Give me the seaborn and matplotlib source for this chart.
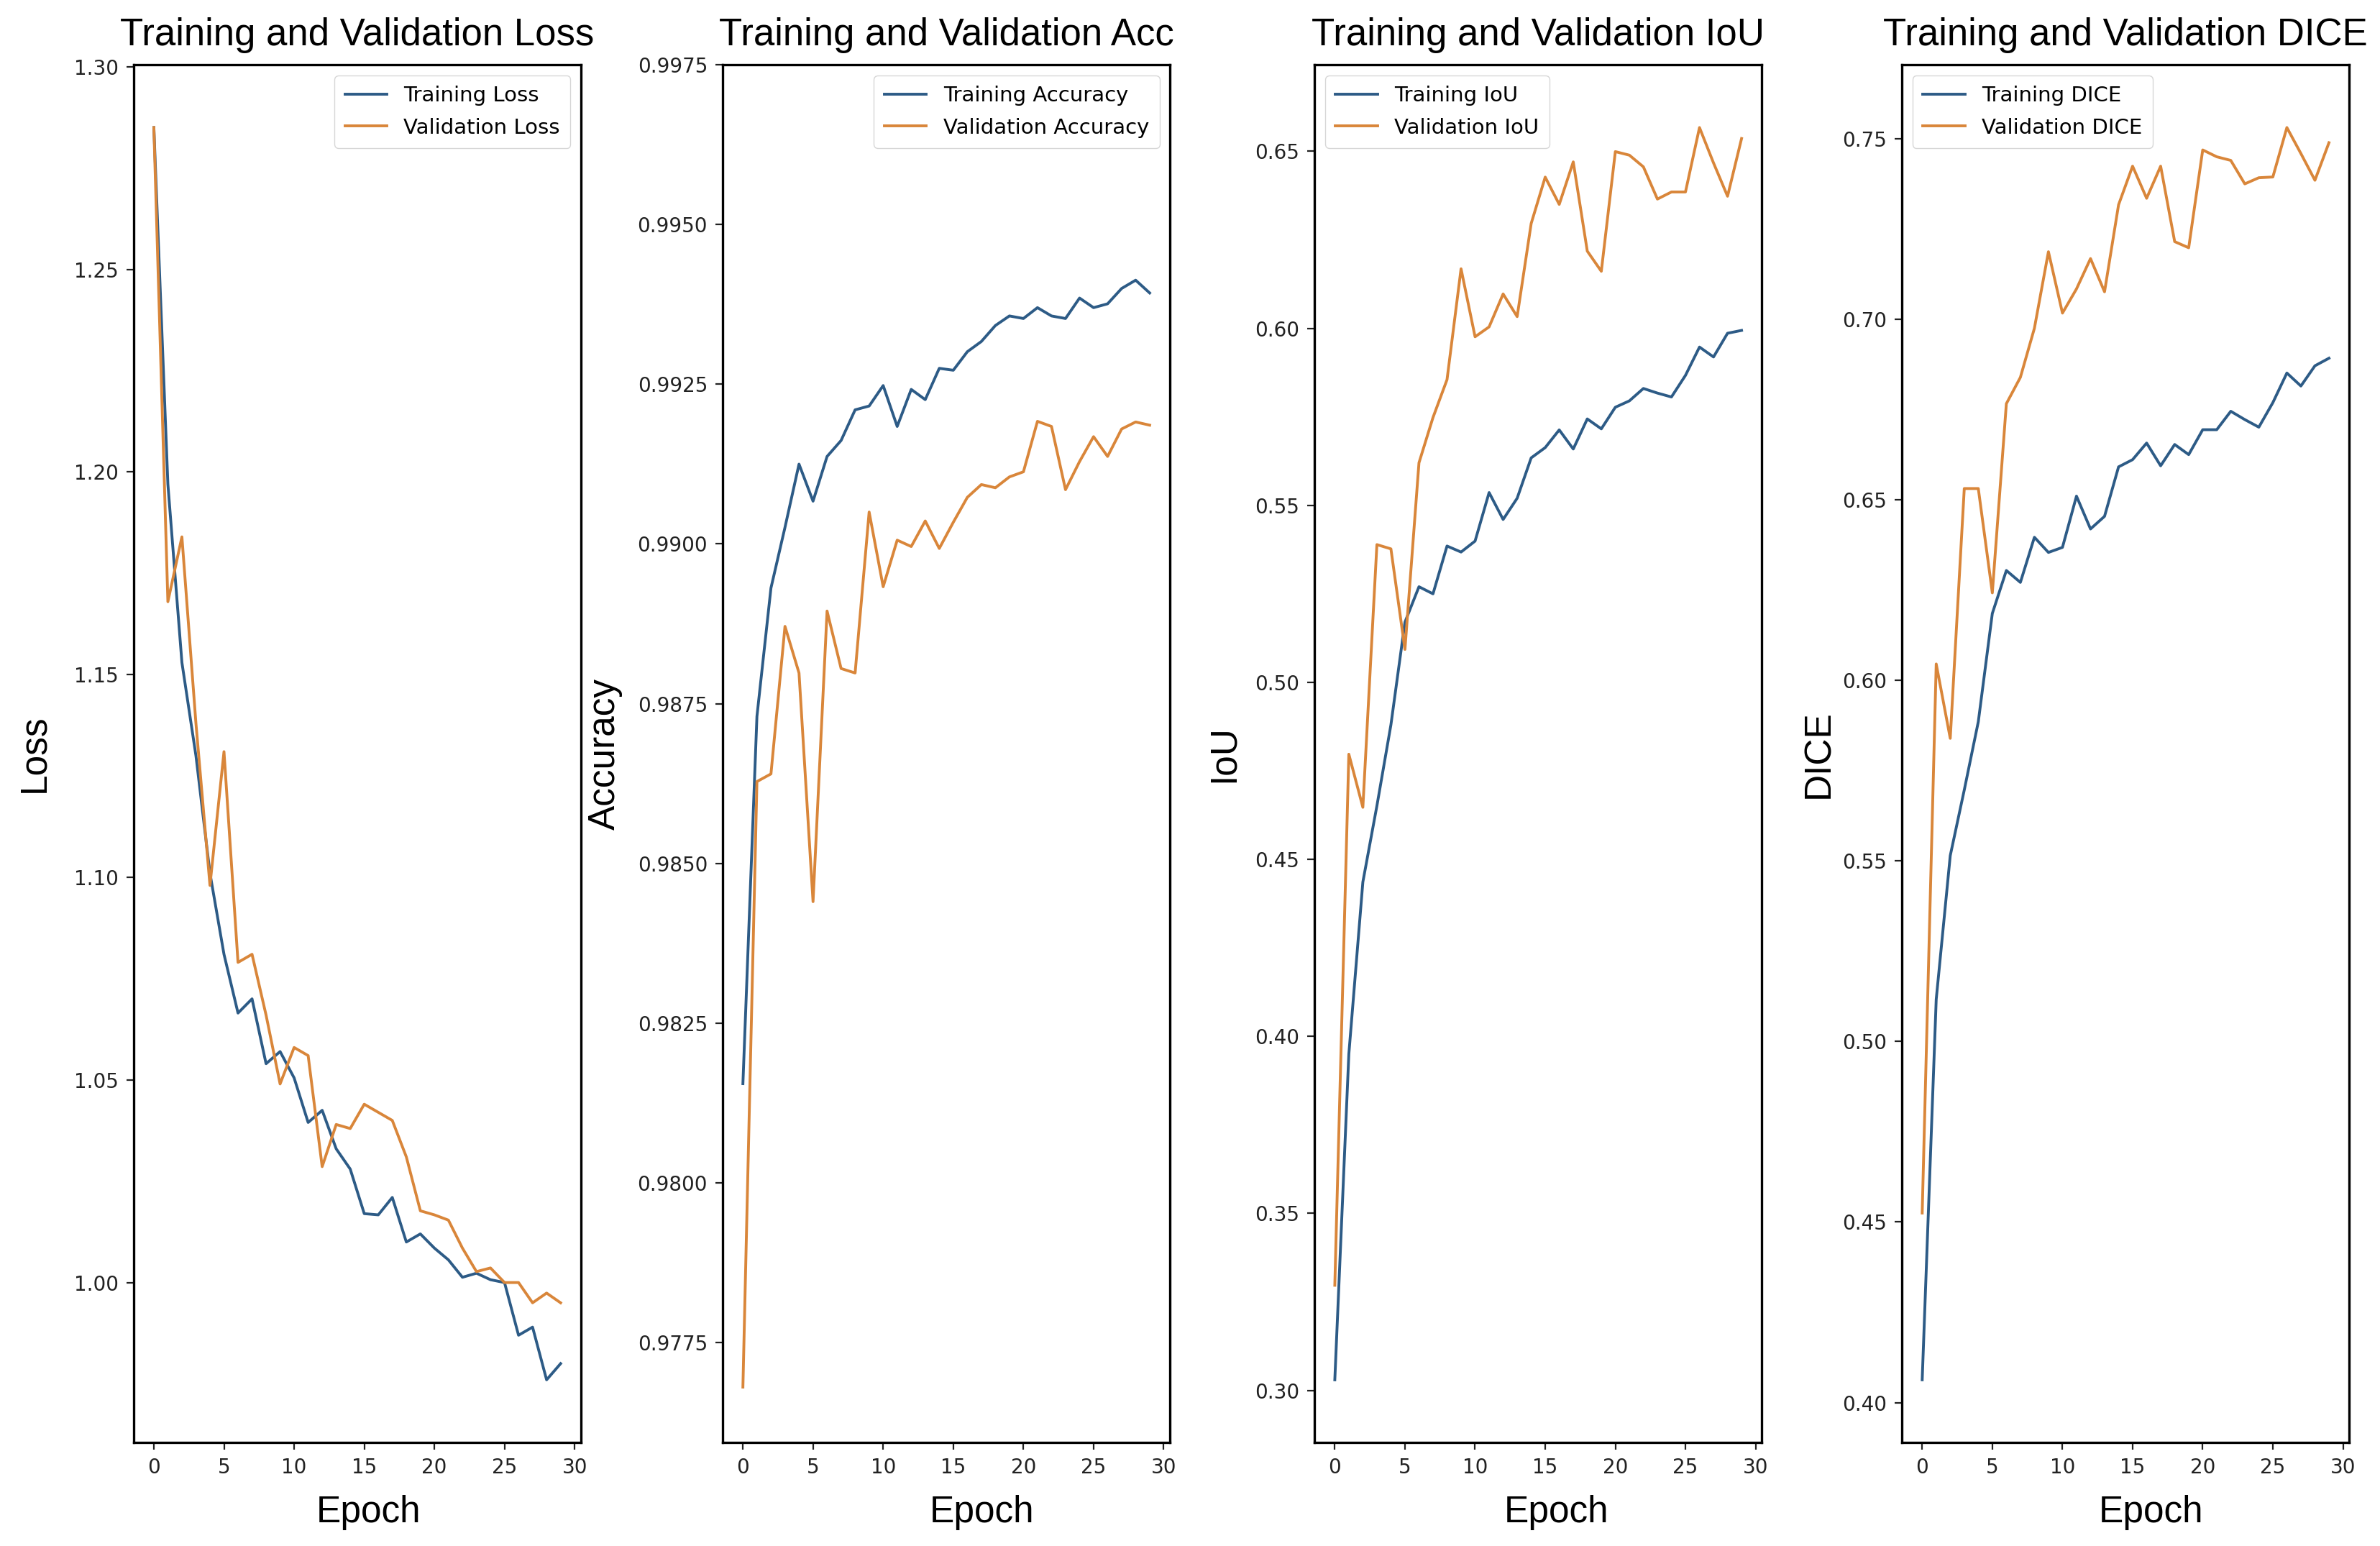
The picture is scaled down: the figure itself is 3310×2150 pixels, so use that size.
import matplotlib
matplotlib.use("Agg")
import matplotlib.pyplot as plt
import seaborn as sns

# ---- data (30 epochs) ----
epochs = list(range(30))

train_loss = [1.285, 1.197, 1.153, 1.130, 1.101, 1.081, 1.0665, 1.070, 1.054, 1.057,
              1.0505, 1.0395, 1.0425, 1.033, 1.028, 1.017, 1.0167, 1.021, 1.010, 1.012,
              1.0085, 1.0056, 1.0013, 1.0023, 1.0007, 1.000, 0.987, 0.989, 0.976, 0.980]
val_loss = [1.285, 1.168, 1.184, 1.138, 1.098, 1.131, 1.079, 1.081, 1.066, 1.049,
            1.058, 1.056, 1.0286, 1.039, 1.038, 1.044, 1.042, 1.040, 1.031, 1.0177,
            1.0167, 1.0154, 1.0085, 1.0027, 1.0036, 1.000, 1.000, 0.995, 0.9974, 0.995]

train_acc = [0.98155, 0.9873, 0.98931, 0.99026, 0.99125, 0.99067, 0.99137, 0.99162, 0.9921, 0.99216,
             0.99248, 0.99184, 0.99242, 0.99226, 0.99275, 0.99272, 0.99301, 0.99317, 0.99342, 0.99357,
             0.99353, 0.9937, 0.99357, 0.99353, 0.99385, 0.9937, 0.99376, 0.994, 0.99413, 0.99393]
val_acc = [0.9768, 0.98628, 0.9864, 0.98871, 0.98798, 0.9844, 0.98895, 0.98805, 0.98798, 0.9905,
           0.98933, 0.99006, 0.98996, 0.99036, 0.98993, 0.99034, 0.99073, 0.99093, 0.99088, 0.99105,
           0.99113, 0.99192, 0.99184, 0.99085, 0.99129, 0.99168, 0.99137, 0.9918, 0.99191, 0.99186]

train_iou = [0.303, 0.395, 0.4436, 0.4651, 0.488, 0.517, 0.527, 0.525, 0.5385, 0.5368,
             0.5399, 0.5536, 0.546, 0.552, 0.5634, 0.5663, 0.5713, 0.5659, 0.5744, 0.5716,
             0.5777, 0.5795, 0.583, 0.5817, 0.5806, 0.5867, 0.5947, 0.5919, 0.5986, 0.5994]
val_iou = [0.3297, 0.4797, 0.4647, 0.5389, 0.5377, 0.5093, 0.562, 0.5748, 0.5855, 0.6168,
           0.5976, 0.6004, 0.6097, 0.6033, 0.6296, 0.6427, 0.635, 0.647, 0.6218, 0.6161,
           0.6499, 0.6489, 0.6456, 0.6365, 0.6385, 0.6385, 0.6567, 0.6467, 0.6373, 0.6536]

train_dice = [0.4063, 0.5117, 0.5515, 0.5697, 0.5886, 0.6186, 0.6305, 0.6272, 0.6397, 0.6355,
              0.6369, 0.6511, 0.642, 0.6455, 0.6592, 0.6612, 0.6658, 0.6595, 0.6654, 0.6626,
              0.6695, 0.6695, 0.6746, 0.6723, 0.6702, 0.677, 0.6852, 0.6816, 0.6872, 0.6893]
val_dice = [0.4525, 0.6046, 0.584, 0.6532, 0.6532, 0.6243, 0.6767, 0.684, 0.6976, 0.7188,
            0.7018, 0.7085, 0.7169, 0.7077, 0.7318, 0.7425, 0.7336, 0.7425, 0.7216, 0.7199,
            0.747, 0.7451, 0.7441, 0.7376, 0.7393, 0.7395, 0.7532, 0.746, 0.7386, 0.749]

titles = ["Training and Validation Loss", "Training and Validation Acc",
          "Training and Validation IoU", "Training and Validation DICE"]
ylabels = ["Loss", "Accuracy", "IoU", "DICE"]
train_names = ["Training Loss", "Training Accuracy", "Training IoU", "Training DICE"]
val_names = ["Validation Loss", "Validation Accuracy", "Validation IoU", "Validation DICE"]

BLUE = "#2d5b86"
ORANGE = "#d9863a"
BIG = ["Liberation Sans", "DejaVu Sans"]

plt.rcParams["font.family"] = ["DejaVu Sans"]
plt.rcParams["axes.linewidth"] = 2.4

fig = plt.figure(figsize=(33.1, 21.5), dpi=100)

lefts = [0.0561, 0.3036, 0.5523, 0.7991]
width = 0.188
bottom, top = 0.067, 0.958
legend_loc = ["upper right", "upper right", "upper left", "upper left"]
ylabel_x = [-0.183, -0.224, -0.163, -0.146]
xlabel_x = [0.525, 0.58, 0.54, 0.557]

series = [(train_loss, val_loss), (train_acc, val_acc),
          (train_iou, val_iou), (train_dice, val_dice)]

for i, (tr, va) in enumerate(series):
    ax = fig.add_axes([lefts[i], bottom, width, top - bottom])
    sns.lineplot(x=epochs, y=tr, ax=ax, color=BLUE, linewidth=2.8, label=train_names[i])
    sns.lineplot(x=epochs, y=va, ax=ax, color=ORANGE, linewidth=2.8, label=val_names[i])
    if i == 1:
        ax.set_ylim(top=0.9975)
    ax.ticklabel_format(axis="y", useOffset=False)
    ax.tick_params(labelsize=20, length=7, width=1.6, pad=8, colors="#222222")
    ax.set_title(titles[i], fontsize=38, family=BIG, pad=20)
    ax.set_ylabel(ylabels[i], fontsize=37, family=BIG)
    ax.set_xlabel("Epoch", fontsize=37, family=BIG)
    ax.yaxis.set_label_coords(ylabel_x[i], 0.5)
    ax.xaxis.set_label_coords(xlabel_x[i], -0.038)
    ax.legend(loc=legend_loc[i], fontsize=21, handlelength=2.0, borderpad=0.5,
              labelspacing=0.55)

fig.savefig("out.png", dpi=100)
